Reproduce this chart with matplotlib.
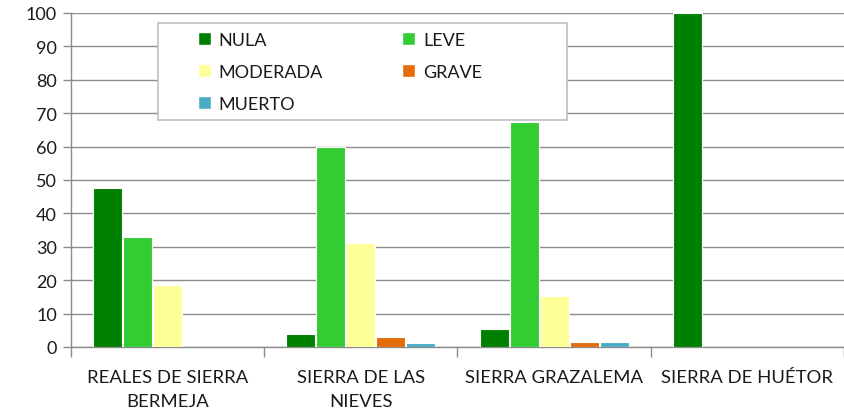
import numpy as np
import matplotlib.pyplot as plt
from matplotlib.patches import Patch, Rectangle

plt.rcParams['font.family'] = ['Lato', 'DejaVu Sans']

# --------------------- DATA
zonas = ['REALES DE SIERRA\nBERMEJA', 'SIERRA DE LAS\nNIEVES',
         'SIERRA GRAZALEMA', 'SIERRA DE HUÉTOR']
nula = [47.6, 3.9, 5.5, 100]
leve = [33.0, 60.0, 67.5, 0]
moderada = [18.7, 31.0, 15.4, 0]
grave = [0, 3.0, 1.5, 0]
muerto = [0, 1.2, 1.5, 0]

series = [('NULA', nula, '#008000'),
          ('LEVE', leve, '#33CC33'),
          ('MODERADA', moderada, '#FFFF99'),
          ('GRAVE', grave, '#E46C0A'),
          ('MUERTO', muerto, '#4BACC6')]

# --------------------- PLOT
fig = plt.figure(figsize=(8.45, 4.14), dpi=100)
ax = fig.add_axes([71 / 845, 1 - 348 / 414, 773 / 845, 334 / 414])

x = np.arange(len(zonas))
step = 0.1554
width = 0.15
for i, (name, vals, col) in enumerate(series):
    vals = np.array(vals, dtype=float)
    keep = vals > 0
    ax.bar(x[keep] + (i - 2) * step, vals[keep], width, color=col,
           edgecolor='white', linewidth=0.8, zorder=3)

ax.set_xlim(-0.5, len(zonas) - 0.5)
ax.set_ylim(0, 100)
ax.set_yticks(range(0, 101, 10))
ax.yaxis.grid(True, color='#8c8c8c', linewidth=1.0, zorder=0)
ax.set_axisbelow(True)

ax.set_xticks(x)
ax.set_xticklabels(zonas, fontsize=13.3, color='#1a1a1a', linespacing=1.6)
ax.tick_params(axis='x', which='major', length=0, pad=16)
ax.set_xticks(np.arange(-0.5, len(zonas), 1.0), minor=True)
ax.tick_params(axis='x', which='minor', length=7, color='#8c8c8c', width=1)
ax.tick_params(axis='y', length=6, color='#8c8c8c', width=1,
               labelsize=13, labelcolor='#1a1a1a', pad=4)

for s in ['top', 'right']:
    ax.spines[s].set_visible(False)
for s in ['left', 'bottom']:
    ax.spines[s].set_color('#8c8c8c')
    ax.spines[s].set_linewidth(1.0)

# legend frame drawn by hand, entries laid out row by row like the original
fig.patches.append(Rectangle((158 / 845, 1 - 121 / 414), 409 / 845, 97 / 414,
                             transform=fig.transFigure, facecolor='white',
                             edgecolor='#bfbfbf', linewidth=1.2, zorder=5))
order = [0, 2, 4, 1, 3]
handles = [Patch(facecolor=series[k][2], edgecolor='white', label=series[k][0])
           for k in order]
leg = fig.legend(handles=handles, ncol=2, loc='upper left',
                 bbox_to_anchor=(198 / 845, 1 - 33 / 414),
                 fontsize=13, frameon=False,
                 handlelength=0.7, handleheight=0.7, handletextpad=0.45,
                 labelspacing=0.88, borderpad=0, borderaxespad=0,
                 columnspacing=4.4)
leg.set_zorder(6)
for t in leg.get_texts():
    t.set_color('#1a1a1a')

fig.savefig('out.png', dpi=100)
